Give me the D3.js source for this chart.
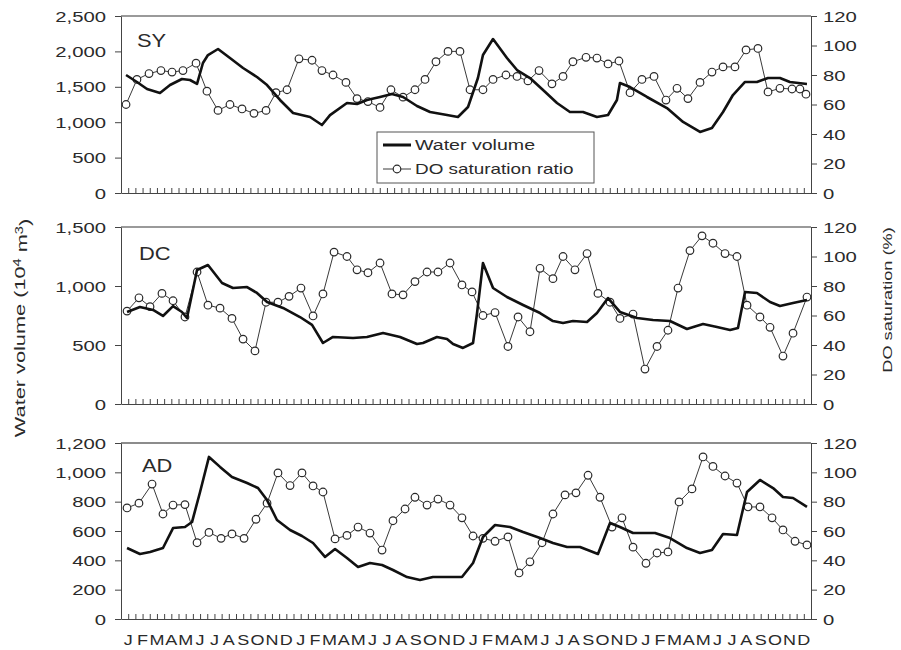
<!DOCTYPE html>
<html>
<head>
<meta charset="utf-8">
<script src="https://cdn.jsdelivr.net/npm/d3@7/dist/d3.min.js"></script>
<style>
  body { margin: 0; background: #fff; }
  text { font-family: "Liberation Sans", Arial, sans-serif; fill: #2a2a2a; }
</style>
</head>
<body>
<div id="chart"></div>
<script>
// month letters for the x axis (4 years)
var monthLetters = ["J", "F", "M", "A", "M", "J", "J", "A", "S", "O", "N", "D"];
var nYears = 4;

// SY
var syDoMonth = [0.35, 1.11, 1.95, 2.78, 3.55, 4.31, 5.22, 5.98, 6.75, 7.58, 8.42, 9.25, 10.09, 10.78, 11.55, 12.38, 13.29, 13.98, 14.75, 15.65,
  16.42, 17.18, 18.02, 18.78, 19.62, 20.45, 21.15, 21.91, 22.75, 23.58, 24.28, 25.18, 25.88, 26.78, 27.55, 28.31, 29.08, 29.98, 30.75, 31.44,
  32.35, 33.11, 33.88, 34.64, 35.41, 36.24, 37.08, 37.91, 38.68, 39.44, 40.28, 41.11, 41.88, 42.71, 43.48, 44.31, 45.01, 45.84, 46.68, 47.23, 47.65];
var syDo = [60, 77, 81, 83, 82, 83, 88, 69, 56, 60, 57, 54, 56, 68, 70, 91, 90, 83, 80, 75,
  64, 62, 58, 70, 65, 70, 77, 89, 96, 96, 70, 70, 77, 80, 79, 76, 83, 74, 79, 89,
  92, 91.5, 87.5, 89.5, 68, 77, 79, 63, 71, 64, 75, 82, 85.5, 85.5, 97, 98, 68.5, 71, 70.5, 70.5, 67];
var syVolMonth = [0.35, 1.11, 1.81, 2.71, 3.41, 4.24, 4.80, 5.29, 5.70, 6.05, 6.75, 7.58, 8.49, 9.46, 10.16, 11.06, 11.97, 13.15, 13.98, 14.54,
  15.72, 16.42, 17.11, 18.02, 18.85, 19.62, 20.59, 21.50, 22.68, 23.44, 24.14, 24.83, 25.18, 25.88, 26.85, 27.55, 28.45, 29.36, 30.33, 31.23,
  32.14, 33.11, 33.88, 34.50, 34.71, 35.41, 36.59, 37.98, 39.10, 40.28, 41.11, 41.88, 42.57, 43.41, 44.24, 45.01, 45.84, 46.53, 47.72];
var syVol = [1667, 1568, 1469, 1412, 1525, 1610, 1596, 1540, 1836, 1949, 2034, 1907, 1766, 1638, 1525, 1314, 1130, 1073, 960, 1100,
  1271, 1257, 1314, 1356, 1398, 1356, 1229, 1144, 1102, 1073, 1215, 1624, 1949, 2175, 1907, 1737, 1624, 1455, 1271, 1144,
  1144, 1073, 1102, 1314, 1554, 1497, 1356, 1200, 1003, 862, 918, 1144, 1384, 1568, 1568, 1624, 1624, 1568, 1540];

// DC
var dcDoMonth = [0.42, 1.25, 2.02, 2.85, 3.62, 4.45, 5.29, 6.05, 6.89, 7.72, 8.49, 9.32, 10.09, 10.92, 11.69, 12.52, 13.36, 14.05, 14.82, 15.72,
  16.42, 17.18, 18.02, 18.85, 19.62, 20.45, 21.29, 22.05, 22.89, 23.72, 24.42, 25.18, 26.02, 26.92, 27.62, 28.45, 29.15, 30.05, 30.75, 31.58,
  32.42, 33.18, 34.02, 34.71, 35.62, 36.45, 37.29, 38.05, 38.75, 39.58, 40.42, 41.18, 42.02, 42.85, 43.55, 44.45, 45.15, 46.05, 46.75, 47.72];
var dcDo = [63, 72, 66, 75, 70, 59, 89.5, 67, 65, 58, 44, 36, 69, 69, 73, 78.6, 59.7, 74.6, 103, 100,
  91, 89, 95.6, 74.6, 74, 83, 89.5, 89.5, 95.6, 80.7, 76, 60, 62, 39, 59, 49, 92, 85, 100, 91,
  102, 75, 69, 58, 61, 23.7, 39, 50, 78.6, 104, 114, 109, 102, 100, 67, 59, 52, 32.5, 48, 72.5];
var dcVolMonth = [0.42, 1.32, 2.23, 2.92, 3.62, 4.24, 4.59, 5.29, 6.05, 7.03, 7.79, 8.77, 9.46, 10.16, 11.27, 12.45, 13.29, 14.05, 14.75, 16.14,
  17.11, 18.23, 19.41, 20.59, 21.01, 21.98, 22.68, 23.10, 23.79, 24.49, 24.77, 25.18, 25.88, 26.85, 27.97, 29.15, 30.05, 30.75, 31.44, 32.42,
  33.11, 33.88, 34.71, 35.90, 37.01, 38.19, 39.37, 40.49, 41.46, 42.37, 42.92, 43.41, 44.24, 45.15, 45.84, 46.75, 47.72];
var dcVol = [780, 822, 797, 746, 830, 780, 729, 1136, 1178, 1025, 983, 991, 941, 864, 814, 737, 670, 517, 568, 559,
  568, 602, 568, 508, 517, 568, 551, 508, 475, 517, 771, 1195, 983, 907, 839, 771, 703, 686, 703, 695,
  771, 898, 780, 729, 712, 703, 636, 678, 653, 627, 644, 949, 941, 864, 830, 856, 881];

// AD
var adDoMonth = [0.42, 1.25, 2.16, 2.92, 3.62, 4.45, 5.29, 6.12, 6.96, 7.72, 8.56, 9.39, 10.16, 10.92, 11.76, 12.59, 13.36, 14.05, 14.89, 15.72,
  16.49, 17.32, 18.16, 18.92, 19.76, 20.45, 21.29, 22.05, 22.89, 23.72, 24.49, 25.18, 26.02, 26.92, 27.69, 28.45, 29.29, 30.05, 30.89, 31.65,
  32.49, 33.32, 34.16, 34.85, 35.62, 36.52, 37.29, 38.05, 38.82, 39.72, 40.49, 41.18, 42.02, 42.85, 43.62, 44.45, 45.29, 46.05, 46.89, 47.72];
var adDo = [75.7, 79, 92, 71.6, 77.7, 78, 52, 59, 55, 58, 55, 68, 79, 99.6, 91, 99.6, 90.7, 86.6, 54.6, 57,
  62.7, 58.6, 47, 67, 75, 83, 77.7, 81.8, 77.7, 69, 56.6, 55, 53, 56, 31.4, 39, 52, 71.6, 84.6, 86,
  98, 83, 62.7, 69, 49, 38, 45, 45.7, 79.8, 88.7, 110.5, 104, 97.5, 92.7, 76.4, 76.4, 69, 60.7, 53, 50.5];
var adVolMonth = [0.42, 1.32, 2.02, 2.92, 3.62, 4.45, 4.94, 5.50, 6.12, 6.89, 7.72, 8.77, 9.53, 10.16, 10.85, 11.76, 12.59, 13.36, 14.19, 14.89,
  15.72, 16.49, 17.32, 18.16, 18.92, 19.90, 20.80, 21.70, 22.68, 23.72, 24.49, 25.18, 26.02, 27.06, 27.97, 29.15, 30.05, 31.03, 31.93, 33.18,
  34.02, 34.71, 35.62, 37.15, 38.19, 39.37, 40.28, 41.11, 41.88, 42.85, 43.55, 44.45, 45.36, 46.05, 46.75, 47.72];
var adVol = [484, 443, 457, 484, 620, 627, 661, 866, 1105, 1037, 968, 927, 893, 811, 675, 607, 566, 518, 423, 477,
  416, 355, 382, 368, 334, 286, 266, 286, 286, 286, 382, 559, 641, 627, 593, 552, 518, 491, 491, 443,
  655, 627, 586, 586, 552, 484, 450, 471, 580, 573, 866, 948, 893, 832, 825, 764];

var doTicks = [0, 20, 40, 60, 80, 100, 120];

var panels = [
  { name: "SY", volMax: 2500, volStep: 500, doM: syDoMonth, doV: syDo, volM: syVolMonth, volV: syVol, top: 16, bottom: 193, lx: 137, ly: 47 },
  { name: "DC", volMax: 1500, volStep: 500, doM: dcDoMonth, doV: dcDo, volM: dcVolMonth, volV: dcVol, top: 227, bottom: 404, lx: 139, ly: 260 },
  { name: "AD", volMax: 1200, volStep: 200, doM: adDoMonth, doV: adDo, volM: adVolMonth, volV: adVol, top: 443, bottom: 619, lx: 142, ly: 472 }
];

var width = 901, height = 650;
var left = 121, right = 811;
var sx = 1.45; // the original lettering is wide

var svg = d3.select("#chart").append("svg")
  .attr("width", width)
  .attr("height", height);

var x = d3.scaleLinear().domain([0, 12 * nYears]).range([left, right]);

// stretched text helper
function wideText(str, tx, ty, size, stretch, anchor, rot) {
  return svg.append("text")
    .attr("transform", "translate(" + tx + "," + ty + ")" + (rot ? " rotate(" + rot + ")" : "") + " scale(" + stretch + ",1)")
    .attr("text-anchor", anchor || "start")
    .style("font-size", size + "px")
    .text(str);
}

panels.forEach(function (p, idx) {
  var yVol = d3.scaleLinear().domain([0, p.volMax]).range([p.bottom, p.top]);
  var yDo = d3.scaleLinear().domain([0, 120]).range([p.bottom, p.top]);

  // top border
  svg.append("line")
    .attr("x1", left).attr("x2", right)
    .attr("y1", p.top).attr("y2", p.top)
    .attr("stroke", idx == 2 ? "#666" : "#9a9a9a")
    .attr("stroke-width", idx == 2 ? 1.6 : 2.2);

  var gl = svg.append("g").attr("transform", "translate(" + left + ",0)")
    .call(d3.axisLeft(yVol)
      .tickValues(d3.range(0, p.volMax + 1, p.volStep))
      .tickFormat(d3.format(","))
      .tickSize(6).tickSizeOuter(0).tickPadding(0));
  gl.selectAll("text")
    .attr("x", -15 / sx)
    .attr("dy", "0.36em")
    .attr("transform", "scale(" + sx + ",1)")
    .style("font-size", "14px")
    .style("font-family", null);

  var gr = svg.append("g").attr("transform", "translate(" + right + ",0)")
    .call(d3.axisRight(yDo)
      .tickValues(doTicks)
      .tickSize(6).tickSizeOuter(0).tickPadding(0));
  gr.selectAll("text")
    .attr("x", 12 / sx)
    .attr("dy", "0.36em")
    .attr("transform", "scale(" + sx + ",1)")
    .style("font-size", "14px");

  svg.append("g").attr("transform", "translate(0," + p.bottom + ")")
    .call(d3.axisBottom(x)
      .tickValues(d3.range(0, 12 * nYears + 0.01, 0.5))
      .tickFormat("")
      .tickSizeInner(-5).tickSizeOuter(0));

  [gl, gr].forEach(function (g) {
    g.selectAll("text").attr("fill", null);
  });
  svg.selectAll(".domain, .tick line").attr("stroke", "#444");

  // DO saturation: thin line with open circles
  var doPts = p.doM.map(function (m, i) { return [m, p.doV[i]]; });
  svg.append("path")
    .datum(doPts)
    .attr("fill", "none")
    .attr("stroke", "#3a3a3a")
    .attr("stroke-width", 1)
    .attr("d", d3.line().x(function (d) { return x(d[0]); }).y(function (d) { return yDo(d[1]); }));
  svg.append("g").selectAll("circle")
    .data(doPts)
    .enter().append("circle")
    .attr("cx", function (d) { return x(d[0]); })
    .attr("cy", function (d) { return yDo(d[1]); })
    .attr("r", 3.8)
    .attr("fill", "#fff")
    .attr("stroke", "#2a2a2a")
    .attr("stroke-width", 1.2);

  // water volume
  var volPts = p.volM.map(function (m, i) { return [m, p.volV[i]]; });
  svg.append("path")
    .datum(volPts)
    .attr("fill", "none")
    .attr("stroke", "#111")
    .attr("stroke-width", 2.6)
    .attr("stroke-linejoin", "round")
    .attr("d", d3.line().x(function (d) { return x(d[0]); }).y(function (d) { return yVol(d[1]); }));

  wideText(p.name, p.lx, p.ly, 19, 1.15);
});

// month letters below the last panel
for (var yr = 0; yr < nYears; yr++) {
  monthLetters.forEach(function (l, i) {
    wideText(l, x(yr * 12 + i + 0.5), 645, 15, 1.2, "middle");
  });
}

// legend
var lg = svg.append("g");
lg.append("rect")
  .attr("x", 377).attr("y", 132).attr("width", 217).attr("height", 51)
  .attr("fill", "#fff").attr("stroke", "#555").attr("stroke-width", 1);
lg.append("line").attr("x1", 383).attr("x2", 411).attr("y1", 145).attr("y2", 145)
  .attr("stroke", "#111").attr("stroke-width", 3);
lg.append("line").attr("x1", 383).attr("x2", 411).attr("y1", 169).attr("y2", 169)
  .attr("stroke", "#3a3a3a").attr("stroke-width", 1);
lg.append("circle").attr("cx", 397).attr("cy", 169).attr("r", 3.8)
  .attr("fill", "#fff").attr("stroke", "#2a2a2a").attr("stroke-width", 1.2);
wideText("Water volume", 415, 150, 14, 1.4);
wideText("DO saturation ratio", 415, 174, 14, 1.35);

// axis titles
var lt = svg.append("text")
  .attr("transform", "translate(25,328) rotate(-90) scale(1.45,1)")
  .attr("text-anchor", "middle")
  .style("font-size", "15px");
lt.append("tspan").text("Water volume (10");
lt.append("tspan").attr("dy", "-0.45em").style("font-size", "10px").text("4");
lt.append("tspan").attr("dy", "0.45em").text(" m");
lt.append("tspan").attr("dy", "-0.45em").style("font-size", "10px").text("3");
lt.append("tspan").attr("dy", "0.45em").text(")");

wideText("DO saturation (%)", 892, 300, 13, 1.4, "middle", -90);
</script>
</body>
</html>
